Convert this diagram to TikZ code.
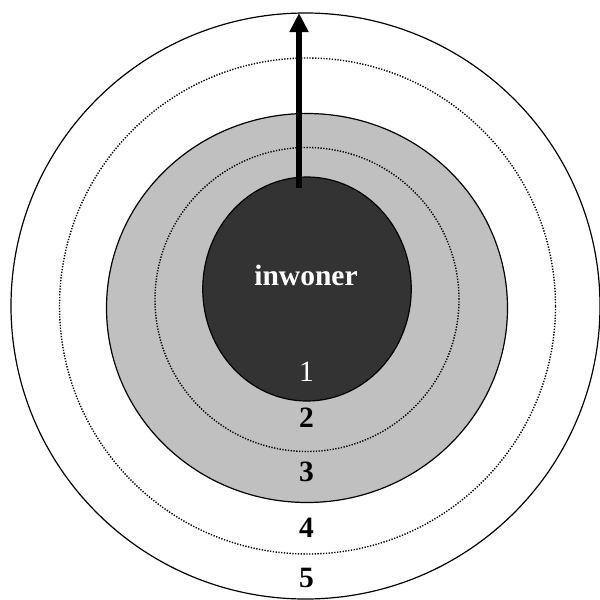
\documentclass[tikz,border=0pt]{standalone}
\usepackage{fontspec}
\setmainfont{Liberation Serif}
\usetikzlibrary{arrows.meta,shapes.geometric}
\definecolor{coregray}{HTML}{333333}
\definecolor{ringgray}{HTML}{C0C0C0}
\tikzset{
  ring/.style={ellipse, draw=black, line width=1.2pt, inner sep=0pt, outer sep=0pt},
  dotring/.style={ellipse, draw=black, line width=1.4pt, dash pattern=on 1.3pt off 1.5pt,
                  inner sep=0pt, outer sep=0pt},
  lbl/.style={font=\fontsize{29.5}{32}\selectfont\bfseries, text=black, inner sep=0pt},
  arr/.style={-{Triangle[length=19pt, width=18pt]}, line width=6pt, color=black}}

\begin{document}
\begin{tikzpicture}[x=1pt,y=-1pt]
    \useasboundingbox (0,0) rectangle (600,600);
    \clip (0,0) rectangle (600,600);
    \node[ring, fill=white, minimum width=589pt, minimum height=586pt] (outer) at (305.5,306) {};
    \node[dotring, minimum width=496pt, minimum height=496pt] (dotout) at (307.5,306) {};
    \node[ring, fill=ringgray, minimum width=401pt, minimum height=389pt] (mid) at (307,308) {};
    \node[dotring, minimum width=304pt, minimum height=304pt] (dotin) at (307,299.5) {};
    \node[ring, fill=coregray, minimum width=208.5pt, minimum height=224pt] (core) at (307,289) {};
    \node[lbl, text=white] (inw) at (306,275.5) {inwoner};
    \node[lbl, text=white, font=\fontsize{29.5}{32}\selectfont] (n1) at (306.5,371.5) {1};
    \node[lbl] (n2) at (306.5,418) {2};
    \node[lbl] (n3) at (306.5,471.5) {3};
    \node[lbl] (n4) at (306.5,528) {4};
    \node[lbl] (n5) at (306.5,578) {5};
    \coordinate (start) at (299,188);
    \draw[arr] (start) -- (start |- outer.north);
  \end{tikzpicture}
\end{document}
